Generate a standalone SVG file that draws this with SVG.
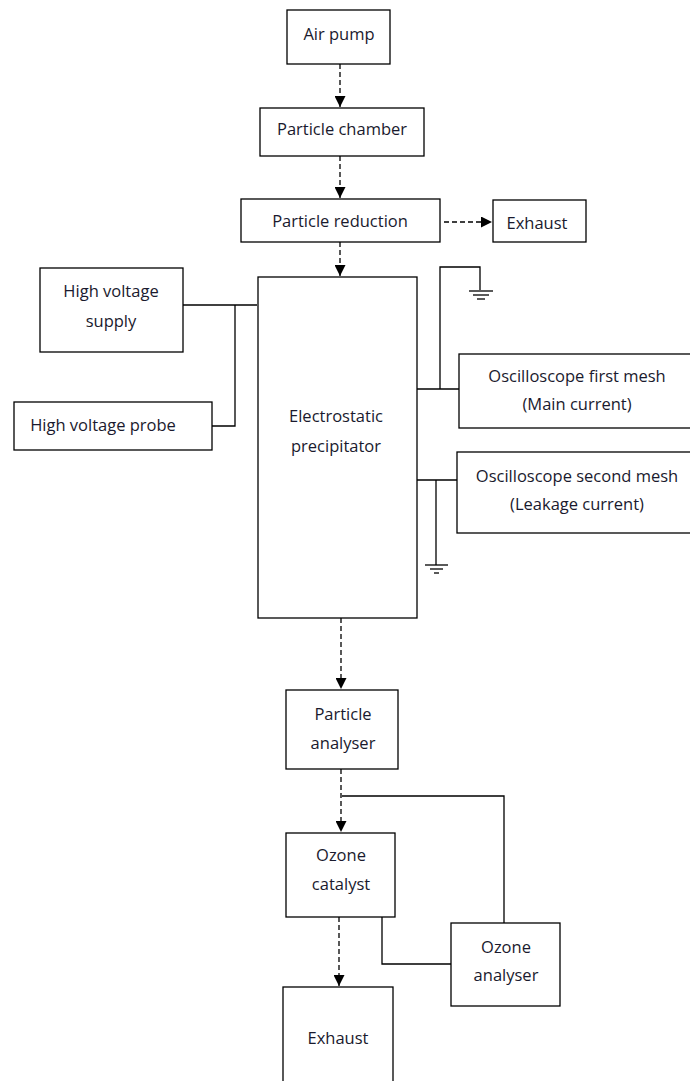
<svg xmlns="http://www.w3.org/2000/svg" width="690" height="1081" viewBox="0 0 690 1081">
<style>
.box{fill:#fff;stroke:#000;stroke-width:1.3}
.t{font-family:"Open Sans","DejaVu Sans",sans-serif;font-size:16.5px;fill:#1a1a2e;text-anchor:middle;dominant-baseline:central}
.w{fill:none;stroke:#000;stroke-width:1.3}
.d{fill:none;stroke:#000;stroke-width:1.3;stroke-dasharray:5 3}
</style>
<defs>
<marker id="ah" viewBox="0 0 10 10" refX="10" refY="5" markerWidth="11" markerHeight="11" markerUnits="userSpaceOnUse" orient="auto">
<path d="M0,0 L10,5 L0,10 Z" fill="#000"/>
</marker>
</defs>
<rect width="690" height="1081" fill="#fff"/>
<g id="connectors">
<line class="d" x1="340" y1="64" x2="340" y2="107" marker-end="url(#ah)"/>
<line class="d" x1="340" y1="156" x2="340" y2="198" marker-end="url(#ah)"/>
<line class="d" x1="444" y1="222" x2="492" y2="222" marker-end="url(#ah)"/>
<line class="d" x1="340" y1="242" x2="340" y2="276" marker-end="url(#ah)"/>
<line class="d" x1="341" y1="618" x2="341" y2="689" marker-end="url(#ah)"/>
<line class="d" x1="341" y1="769" x2="341" y2="832" marker-end="url(#ah)"/>
<line class="d" x1="339" y1="917" x2="339" y2="986" marker-end="url(#ah)"/>
<polyline class="w" points="183,305 257,305"/>
<polyline class="w" points="235,305 235,426 212,426"/>
<polyline class="w" points="440,389 440,267 480,267 480,290"/>
<line class="w" x1="469" y1="291" x2="493" y2="291"/>
<line class="w" x1="473" y1="295" x2="489" y2="295"/>
<line class="w" x1="477" y1="299" x2="485" y2="299"/>
<line class="w" x1="417" y1="389" x2="459" y2="389"/>
<line class="w" x1="417" y1="480" x2="457" y2="480"/>
<line class="w" x1="436" y1="480" x2="436" y2="565"/>
<line class="w" x1="425" y1="565" x2="448" y2="565"/>
<line class="w" x1="430" y1="569" x2="443" y2="569"/>
<line class="w" x1="434" y1="573" x2="439" y2="573"/>
<polyline class="w" points="342,796 504,796 504,923"/>
<polyline class="w" points="382,917 382,964 451,964"/>
</g>
<g id="air-pump"><rect class="box" x="287" y="10" width="103" height="54"/><text class="t" x="339" y="33">Air pump</text></g>
<g id="particle-chamber"><rect class="box" x="260" y="108" width="164" height="48"/><text class="t" x="342" y="128">Particle chamber</text></g>
<g id="particle-reduction"><rect class="box" x="241" y="199" width="199" height="43"/><text class="t" x="340" y="220">Particle reduction</text></g>
<g id="exhaust-top"><rect class="box" x="493" y="200" width="93" height="42"/><text class="t" x="537" y="222">Exhaust</text></g>
<g id="hv-supply"><rect class="box" x="40" y="268" width="143" height="84"/><text class="t" x="111" y="290">High voltage</text><text class="t" x="111" y="320">supply</text></g>
<g id="hv-probe"><rect class="box" x="14" y="402" width="198" height="48"/><text class="t" x="103" y="424">High voltage probe</text></g>
<g id="esp"><rect class="box" x="258" y="277" width="159" height="341"/><text class="t" x="336" y="415">Electrostatic</text><text class="t" x="336" y="445">precipitator</text></g>
<g id="osc-first"><rect class="box" x="459" y="354" width="240" height="74"/><text class="t" x="577" y="375">Oscilloscope first mesh</text><text class="t" x="577" y="403">(Main current)</text></g>
<g id="osc-second"><rect class="box" x="457" y="452" width="240" height="81"/><text class="t" x="577" y="475">Oscilloscope second mesh</text><text class="t" x="577" y="503">(Leakage current)</text></g>
<g id="particle-analyser"><rect class="box" x="286" y="690" width="112" height="79"/><text class="t" x="343" y="713">Particle</text><text class="t" x="343" y="742">analyser</text></g>
<g id="ozone-catalyst"><rect class="box" x="286" y="833" width="109" height="84"/><text class="t" x="341" y="854">Ozone</text><text class="t" x="341" y="883">catalyst</text></g>
<g id="ozone-analyser"><rect class="box" x="451" y="923" width="109" height="83"/><text class="t" x="506" y="946">Ozone</text><text class="t" x="506" y="974">analyser</text></g>
<g id="exhaust-bottom"><rect class="box" x="283" y="987" width="110" height="110"/><text class="t" x="338" y="1037">Exhaust</text></g>
</svg>
